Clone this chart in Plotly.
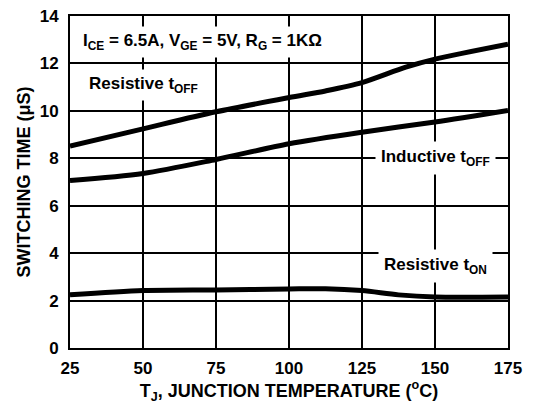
import plotly.graph_objects as go

temps = [25, 50, 75, 100, 112.5, 125, 140, 150, 175]
res_toff = [8.51, 9.24, 9.96, 10.56, 10.84, 11.19, 11.84, 12.18, 12.81]
ind_temps = [25, 50, 75, 100, 125, 150, 175]
ind_toff = [7.06, 7.36, 7.95, 8.61, 9.10, 9.53, 10.02]
ton_temps = [25, 50, 75, 100, 112.5, 125, 137.5, 150, 175]
res_ton = [2.24, 2.42, 2.45, 2.49, 2.50, 2.42, 2.24, 2.15, 2.15]

x_ticks = [25, 50, 75, 100, 125, 150, 175]
y_ticks = [0, 2, 4, 6, 8, 10, 12, 14]

FONT = "Liberation Sans"
fig = go.Figure()
for xs, ys in [(temps, res_toff), (ind_temps, ind_toff), (ton_temps, res_ton)]:
    fig.add_trace(go.Scatter(x=xs, y=ys, mode="lines",
                             line=dict(color="black", width=5, shape="spline", smoothing=0.8),
                             showlegend=False, hoverinfo="skip"))

axis_common = dict(showgrid=True, gridcolor="black", gridwidth=1.6, showline=True,
                   linecolor="black", linewidth=1.8, mirror=True, zeroline=False,
                   ticks="", automargin=False,
                   tickfont=dict(family=FONT, size=17, color="black", weight="bold"))

fig.update_xaxes(range=[25, 175], tickvals=x_ticks, ticktext=[str(v) for v in x_ticks],
                 ticklabelstandoff=4,
                 title=dict(text="T<sub>J</sub>, JUNCTION TEMPERATURE (<sup>o</sup>C)",
                            font=dict(family=FONT, size=18, color="black", weight="bold"), standoff=2),
                 **axis_common)
fig.update_yaxes(range=[0, 14], tickvals=y_ticks, ticktext=[str(v) for v in y_ticks],
                 ticklabelstandoff=6,
                 title=dict(text="SWITCHING TIME (μS)",
                            font=dict(family=FONT, size=18, color="black", weight="bold"), standoff=4),
                 **axis_common)

ann_font = dict(family=FONT, size=17, color="black", weight="bold")
fig.add_annotation(x=70.3, y=12.9, text="I<sub>CE</sub> = 6.5A, V<sub>GE</sub> = 5V, R<sub>G</sub> = 1KΩ",
                   showarrow=False, font=ann_font, bgcolor="white", borderpad=4)
fig.add_annotation(x=50.2, y=11.1, text="Resistive t<sub>OFF</sub>",
                   showarrow=False, font=ann_font, bgcolor="white", borderpad=4)
fig.add_annotation(x=150, y=8.0, text="Inductive t<sub>OFF</sub>",
                   showarrow=False, font=ann_font, bgcolor="white", borderpad=5)
fig.add_annotation(x=150, y=3.45, text="Resistive t<sub>ON</sub>",
                   showarrow=False, font=ann_font, bgcolor="white", borderpad=5)

fig.update_layout(width=534, height=412, plot_bgcolor="white", paper_bgcolor="white",
                  margin=dict(l=70, r=26, t=16, b=64),
                  font=dict(family=FONT, color="black"))
fig.write_html("out.html", config={"displayModeBar": False},
               post_script="document.body.style.margin='0';")
